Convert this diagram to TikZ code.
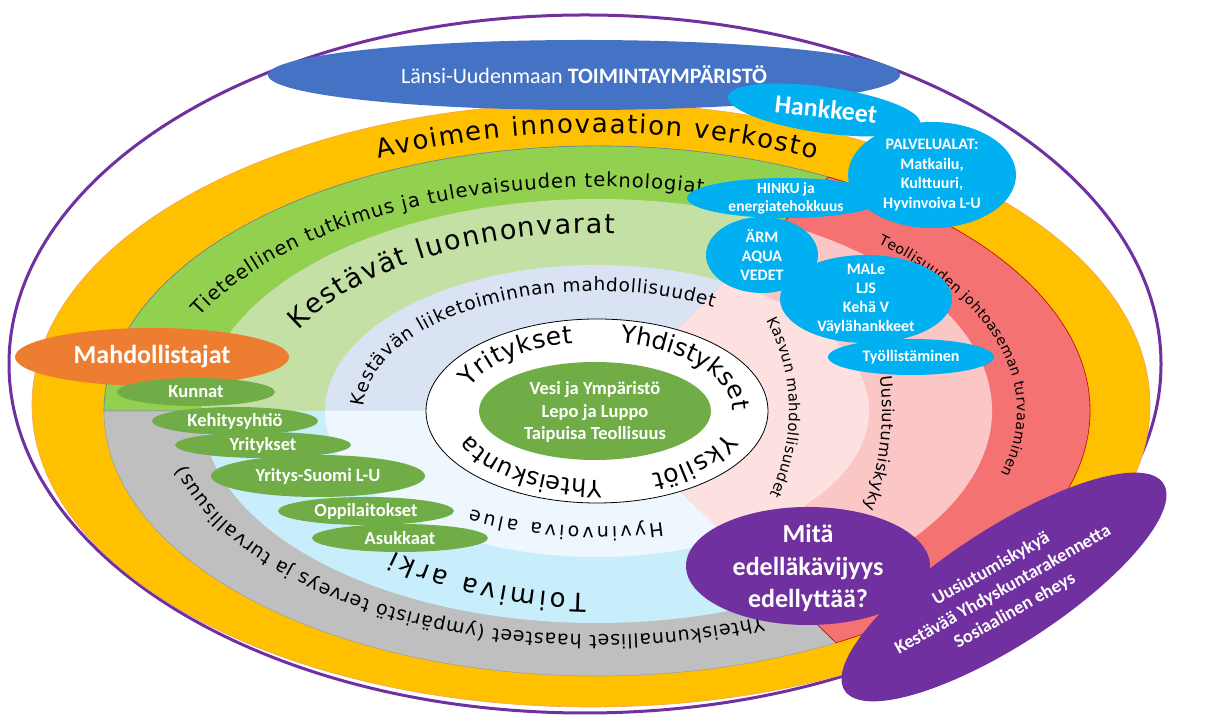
\documentclass[tikz,border=0pt]{standalone}
\usepackage{fontspec}
\setmainfont{Carlito}
\newfontfamily\curvefont{DejaVu Sans}
\newfontfamily\labfont{Carlito}
\usetikzlibrary{decorations.text}
\definecolor{cpurple}{HTML}{7030A0}
\definecolor{corange}{HTML}{FFC000}
\definecolor{corangeline}{HTML}{F4A15A}
\definecolor{cgreen}{HTML}{92D050}
\definecolor{cgreenline}{HTML}{5B7FA8}
\definecolor{cgray}{HTML}{BFBFBF}
\definecolor{cgrayline}{HTML}{A0A0A0}
\definecolor{cred}{HTML}{F47272}
\definecolor{credline}{HTML}{C00000}
\definecolor{clgreen}{HTML}{C5E0A5}
\definecolor{clblue}{HTML}{C8EEFC}
\definecolor{cmpink}{HTML}{FAC6C6}
\definecolor{clav}{HTML}{DAE3F3}
\definecolor{cpblue}{HTML}{EEF7FE}
\definecolor{clpink}{HTML}{FDE1E1}
\definecolor{ccyan}{HTML}{00B0F0}
\definecolor{cdgreen}{HTML}{70AD47}
\definecolor{cdorange}{HTML}{ED7D31}
\definecolor{cblue}{HTML}{4472C4}
\newcommand\cfs[1]{\curvefont\fontsize{#1}{#1}\selectfont}
\newcommand\fsz[2]{\fontsize{#1}{#2}\selectfont}
\tikzset{
  curve/.style={decorate, decoration={text along path, text align={fit to path}, text={#1}}},
  lbl/.style={text=white, font=\labfont\bfseries, align=center, inner sep=0pt},
}
\begin{document}
\begin{tikzpicture}[x=1pt, y=1pt]
\useasboundingbox (0,0) rectangle (1215,719);
\fill[white] (0,0) rectangle (1215,719);
% outer purple outline
\draw[cpurple, line width=3pt] (585,355) ellipse[x radius=576, y radius=349];
% orange ring
\filldraw[fill=corange, draw=corangeline, line width=0.6pt] (591,314) ellipse[x radius=559, y radius=302];
\begin{scope}[shift={(597,308)}]
  % dark ring sectors
  \filldraw[fill=cgreen, draw=cgreenline, line width=0.6pt] (0,0) -- (62:493 and 265) arc[start angle=62, end angle=180, x radius=493, y radius=265] -- cycle;
  \filldraw[fill=cgray, draw=cgrayline, line width=0.6pt] (0,0) -- (180:493 and 265) arc[start angle=180, end angle=299, x radius=493, y radius=265] -- cycle;
  \filldraw[fill=cred, draw=credline, line width=0.6pt] (0,0) -- (-61:493 and 265) arc[start angle=-61, end angle=62, x radius=493, y radius=265] -- cycle;
  % light ring sectors
  \fill[clgreen] (0,0) -- (62:395 and 212) arc[start angle=62, end angle=180, x radius=395, y radius=212] -- cycle;
  \fill[clblue] (0,0) -- (180:395 and 212) arc[start angle=180, end angle=299, x radius=395, y radius=212] -- cycle;
  \fill[cmpink] (0,0) -- (-61:395 and 212) arc[start angle=-61, end angle=62, x radius=395, y radius=212] -- cycle;
  % pale ring sectors
  \fill[clav] (0,0) -- (62:272 and 146) arc[start angle=62, end angle=180, x radius=272, y radius=146] -- cycle;
  \fill[cpblue] (0,0) -- (180:272 and 146) arc[start angle=180, end angle=299, x radius=272, y radius=146] -- cycle;
  \fill[clpink] (0,0) -- (-61:272 and 146) arc[start angle=-61, end angle=62, x radius=272, y radius=146] -- cycle;
  % white core
  \filldraw[fill=white, draw=black, line width=0.8pt] (0,0) ellipse[x radius=171, y radius=92];
  \fill[cdgreen] (-2,0) ellipse[x radius=116, y radius=49];
  % curved texts
  \path[curve={|\cfs{26}|Avoimen innovaation verkosto}] (115:517 and 278) arc[start angle=115, end angle=65, x radius=517, y radius=278];
  \path[curve={|\cfs{19.5}|Tieteellinen tutkimus ja tulevaisuuden teknologiat}] (155:438 and 224) arc[start angle=155, end angle=76, x radius=438, y radius=224];
  \path[curve={|\cfs{27}|Kestävät luonnonvarat}] (153:335 and 178) arc[start angle=153, end angle=87, x radius=335, y radius=178];
  \path[curve={|\cfs{18.5}|Kestävän liiketoiminnan mahdollisuudet}] (178:233 and 120) arc[start angle=178, end angle=60, x radius=233, y radius=120];
  \path[curve={|\cfs{14.2}|Teollisuuden johtoaseman turvaaminen}] (48:420 and 226) arc[start angle=48, end angle=-16, x radius=420, y radius=226];
  \path[curve={|\cfs{16.3}|Uusiutumiskyky}] (7:285 and 285) arc[start angle=7, end angle=-20, x radius=285, y radius=285];
  \path[curve={|\cfs{15}|Kasvun mahdollisuudet}] (28:192 and 192) arc[start angle=28, end angle=-26, x radius=192, y radius=192];
  \path[curve={|\cfs{19}|Yhteiskunnalliset haasteet (ympäristö terveys ja turvallisuus)}] (-67:424 and 224) arc[start angle=-67, end angle=-166, x radius=424, y radius=224];
  \path[curve={|\cfs{26}|Toimiva arki}] (-92:315 and 183) arc[start angle=-92, end angle=-130, x radius=315, y radius=183];
  \path[curve={|\cfs{19}|Hyvinvoiva alue}] (-74:238 and 116) arc[start angle=-74, end angle=-122, x radius=238, y radius=116];
  \path[curve={|\cfs{25}|Yritykset}] (160:135 and 69) arc[start angle=160, end angle=100, x radius=135, y radius=69];
  \path[curve={|\cfs{24.5}|Yhdistykset}] (80:135 and 69) arc[start angle=80, end angle=0, x radius=135, y radius=69];
  \path[curve={|\cfs{25}|Yksilöt}] (-18:135 and 69) arc[start angle=-18, end angle=-66, x radius=135, y radius=69];
  \path[curve={|\cfs{24}|Yhteiskunta}] (-88:135 and 69) arc[start angle=-88, end angle=-160, x radius=135, y radius=69];
\end{scope}
% top blue ellipse
\fill[cblue] (584,644) ellipse[x radius=316, y radius=35];
% cyan project ellipses
\fill[ccyan, rotate around={-8:(824,609)}] (824,609) ellipse[x radius=97, y radius=23];
\fill[ccyan] (786,521) ellipse[x radius=99, y radius=20];
\fill[ccyan] (762,464) ellipse[x radius=56, y radius=38];
\fill[ccyan] (866,420) ellipse[x radius=86, y radius=44];
\fill[ccyan] (911,362) ellipse[x radius=83, y radius=18];
\fill[ccyan] (932,544) ellipse[x radius=84, y radius=53];
% enablers
\fill[cdorange] (152,362) ellipse[x radius=137, y radius=29];
\fill[cdgreen] (196,327) ellipse[x radius=79, y radius=14];
\fill[cdgreen] (235,298) ellipse[x radius=83, y radius=14];
\fill[cdgreen] (263,274) ellipse[x radius=88, y radius=13];
\fill[cdgreen] (318,243) ellipse[x radius=107, y radius=21];
\fill[cdgreen] (366,208) ellipse[x radius=88, y radius=14];
\fill[cdgreen] (400,181) ellipse[x radius=88, y radius=14];
% purple requirement ellipses
\fill[cpurple, rotate around={33:(1004,132)}] (1004,132) ellipse[x radius=190, y radius=58];
\fill[cpurple] (808,153) ellipse[x radius=122, y radius=59];
% labels
\node[lbl, font=\labfont\fsz{22}{26}] (lansi) at (584,644) {Länsi-Uudenmaan \textbf{TOIMINTAYMPÄRISTÖ}};
\node[lbl, font=\labfont\bfseries\fsz{26}{30}, rotate=-6] (hank) at (826,610) {Hankkeet};
\node[lbl, font=\labfont\bfseries\fsz{15.5}{18}] (hinku) at (786,521) {HINKU ja\\energiatehokkuus};
\node[lbl, font=\labfont\bfseries\fsz{16}{19}] (arm) at (762,464) {ÄRM\\AQUA\\VEDET};
\node[lbl, font=\labfont\bfseries\fsz{16}{19}] (male) at (866,420) {MALe\\LJS\\Kehä V\\Väylähankkeet};
\node[lbl, font=\labfont\bfseries\fsz{16}{19}] (tyo) at (911,362) {Työllistäminen};
\node[lbl, font=\labfont\bfseries\fsz{16}{19.5}] (palv) at (932,544) {PALVELUALAT:\\Matkailu,\\Kulttuuri,\\Hyvinvoiva L-U};
\node[lbl, font=\labfont\bfseries\fsz{26}{30}] (mahd) at (152,362) {Mahdollistajat};
\node[lbl, font=\labfont\bfseries\fsz{18.5}{22}] (kunnat) at (196,327) {Kunnat};
\node[lbl, font=\labfont\bfseries\fsz{18.5}{22}] (kehy) at (235,298) {Kehitysyhtiö};
\node[lbl, font=\labfont\bfseries\fsz{18.5}{22}] (yrit) at (263,274) {Yritykset};
\node[lbl, font=\labfont\bfseries\fsz{18.5}{22}] (ysuomi) at (318,243) {Yritys-Suomi L-U};
\node[lbl, font=\labfont\bfseries\fsz{18.5}{22}] (oppi) at (366,208) {Oppilaitokset};
\node[lbl, font=\labfont\bfseries\fsz{18.5}{22}] (asuk) at (400,181) {Asukkaat};
\node[lbl, font=\labfont\bfseries\fsz{18.5}{22.5}] (core) at (595,307) {Vesi ja Ympäristö\\Lepo ja Luppo\\Taipuisa Teollisuus};
\node[lbl, font=\labfont\bfseries\fsz{26}{32.5}] (mita) at (808,151) {Mitä\\edelläkävijyys\\edellyttää?};
\node[lbl, font=\labfont\bfseries\fsz{18.5}{24}, rotate=29.5] (req) at (1003,129) {Uusiutumiskykyä\\Kestävää Yhdyskuntarakennetta\\Sosiaalinen eheys};
\end{tikzpicture}
\end{document}
